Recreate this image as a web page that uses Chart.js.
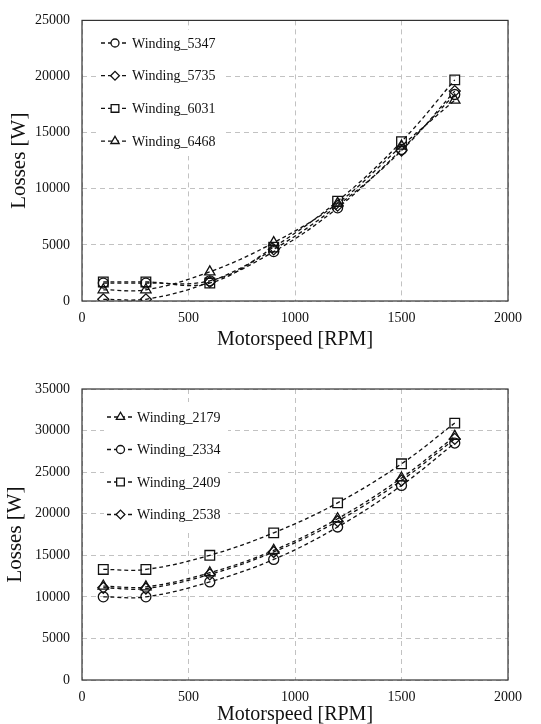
<!DOCTYPE html>
<html>
<head>
<meta charset="utf-8">
<script src="https://cdn.jsdelivr.net/npm/chart.js@4.4.1/dist/chart.umd.min.js"></script>
<style>
  html, body { margin: 0; padding: 0; background: #fff; overflow: hidden; width: 541px; height: 724px; }
  #c1 { position: absolute; left: 0; top: 0; }
  #c2 { position: absolute; left: 0; top: 360px; }
</style>
</head>
<body>
<canvas id="c1" width="541" height="360" style="width:541px;height:360px"></canvas>
<canvas id="c2" width="541" height="380" style="width:541px;height:380px"></canvas>
<script>
// motor speeds (RPM), same for both plots
var speeds = [100, 300, 600, 900, 1200, 1500, 1750];

// top plot - losses [W]
var w5347 = [1600, 1600, 1800, 4400, 8300, 13500, 18400];
var w5735 = [150, 150, 1700, 4600, 8500, 13400, 18700];
var w6031 = [1700, 1700, 1600, 4800, 8900, 14200, 19700];
var w6468 = [1000, 1000, 2600, 5200, 8700, 13800, 17900];

// bottom plot - losses [W]
var w2179 = [11300, 11200, 12900, 15600, 19400, 24300, 29300];
var w2334 = [10000, 10000, 11800, 14500, 18400, 23400, 28500];
var w2409 = [13300, 13300, 15000, 17700, 21300, 26000, 30900];
var w2538 = [11100, 11000, 12700, 15400, 19100, 24000, 29000];

var xTicks = [0, 500, 1000, 1500, 2000];
var serif = "'Liberation Serif', 'DejaVu Serif', serif";

function pts(vals) {
  return speeds.map(function (s, i) { return { x: s, y: vals[i] }; });
}

function series(label, vals, style, r) {
  return {
    label: label,
    data: pts(vals),
    borderColor: "#111",
    borderWidth: 1.3,
    borderDash: [4, 3],
    tension: 0.38,
    fill: false,
    pointStyle: style,
    pointRadius: r,
    pointHoverRadius: r,
    pointBorderWidth: 1.3,
    pointBorderColor: "#111",
    pointBackgroundColor: "rgba(0,0,0,0)",
  };
}

// frame round the plot area
var framePlugin = {
  id: "frame",
  afterDatasetsDraw: function (chart) {
    var a = chart.chartArea, ctx = chart.ctx;
    ctx.save();
    ctx.strokeStyle = "#333";
    ctx.lineWidth = 1.2;
    ctx.strokeRect(a.left, a.top, a.right - a.left, a.bottom - a.top);
    ctx.restore();
  },
};

// legend drawn inside the plot, like the excel one
var innerLegend = {
  id: "innerLegend",
  afterDraw: function (chart, args, opts) {
    var ctx = chart.ctx;
    ctx.save();
    ctx.fillStyle = "#fff";
    ctx.fillRect(opts.box[0], opts.box[1], opts.box[2], opts.box[3]);
    chart.data.datasets.forEach(function (ds, i) {
      var y = opts.y0 + i * opts.dy;
      ctx.strokeStyle = "#111";
      ctx.lineWidth = 1.3;
      ctx.setLineDash([4, 3]);
      ctx.beginPath();
      ctx.moveTo(opts.x0, y);
      ctx.lineTo(opts.x0 + opts.lineW, y);
      ctx.stroke();
      ctx.setLineDash([]);
      ctx.fillStyle = "#fff";
      Chart.helpers.drawPoint(ctx, {
        pointStyle: ds.pointStyle,
        radius: ds.pointRadius * 0.8,
        rotation: 0,
        borderWidth: 1.2,
      }, opts.x0 + opts.lineW / 2, y);
      ctx.fillStyle = "#111";
      ctx.font = "14px " + serif;
      ctx.textBaseline = "middle";
      ctx.textAlign = "left";
      ctx.fillText(ds.label, opts.x0 + opts.lineW + 3, y + 1);
    });
    ctx.restore();
  },
};

function plain(v) { return String(v); }

function makeChart(id, datasets, yMax, layout, legend) {
  return new Chart(document.getElementById(id), {
    type: "line",
    data: { datasets: datasets },
    plugins: [framePlugin, innerLegend],
    options: {
      responsive: false,
      animation: false,
      layout: { padding: { left: 0, right: 33, top: layout.top, bottom: layout.bottom } },
      plugins: {
        legend: { display: false },
        tooltip: { enabled: false },
        innerLegend: legend,
      },
      scales: {
        x: {
          type: "linear",
          min: 0,
          max: 2000,
          afterBuildTicks: function (s) { s.ticks = xTicks.map(function (v) { return { value: v }; }); },
          ticks: { color: "#111", padding: 9, font: { family: serif, size: 14 }, callback: plain },
          grid: { color: "#c2c2c2", drawTicks: false, lineWidth: 1 },
          border: { display: false, dash: [5, 4] },
          title: {
            display: true,
            text: "Motorspeed [RPM]",
            color: "#111",
            font: { family: serif, size: 20 },
            padding: { top: 2, bottom: 4 },
          },
          afterFit: function (s) { s.height = layout.xh; },
        },
        y: {
          min: 0,
          max: yMax,
          ticks: { stepSize: 5000, color: "#111", padding: 12, font: { family: serif, size: 14 }, callback: plain },
          grid: { color: "#c2c2c2", drawTicks: false, lineWidth: 1 },
          border: { display: false, dash: [5, 4] },
          title: {
            display: true,
            text: "Losses [W]",
            color: "#111",
            font: { family: serif, size: 21 },
            padding: { top: layout.yt, bottom: 0 },
          },
          afterFit: function (s) { s.width = 82; },
        },
      },
    },
  });
}

makeChart("c1", [
  series("Winding_5347", w5347, "circle", 5),
  series("Winding_5735", w5735, "rectRot", 5.5),
  series("Winding_6031", w6031, "rect", 6.8),
  series("Winding_6468", w6468, "triangle", 6),
], 25000, { top: 15, bottom: 4, xh: 55, yt: 7 },
  { x0: 101, y0: 43, dy: 32.7, lineW: 28, box: [98, 30, 124, 126] });

makeChart("c2", [
  series("Winding_2179", w2179, "triangle", 6),
  series("Winding_2334", w2334, "circle", 5),
  series("Winding_2409", w2409, "rect", 6.8),
  series("Winding_2538", w2538, "rectRot", 5.5),
], 35000, { top: 29, bottom: 9, xh: 51, yt: 3 },
  { x0: 107, y0: 57, dy: 32.5, lineW: 27, box: [104, 42, 124, 128] });
</script>
</body>
</html>
